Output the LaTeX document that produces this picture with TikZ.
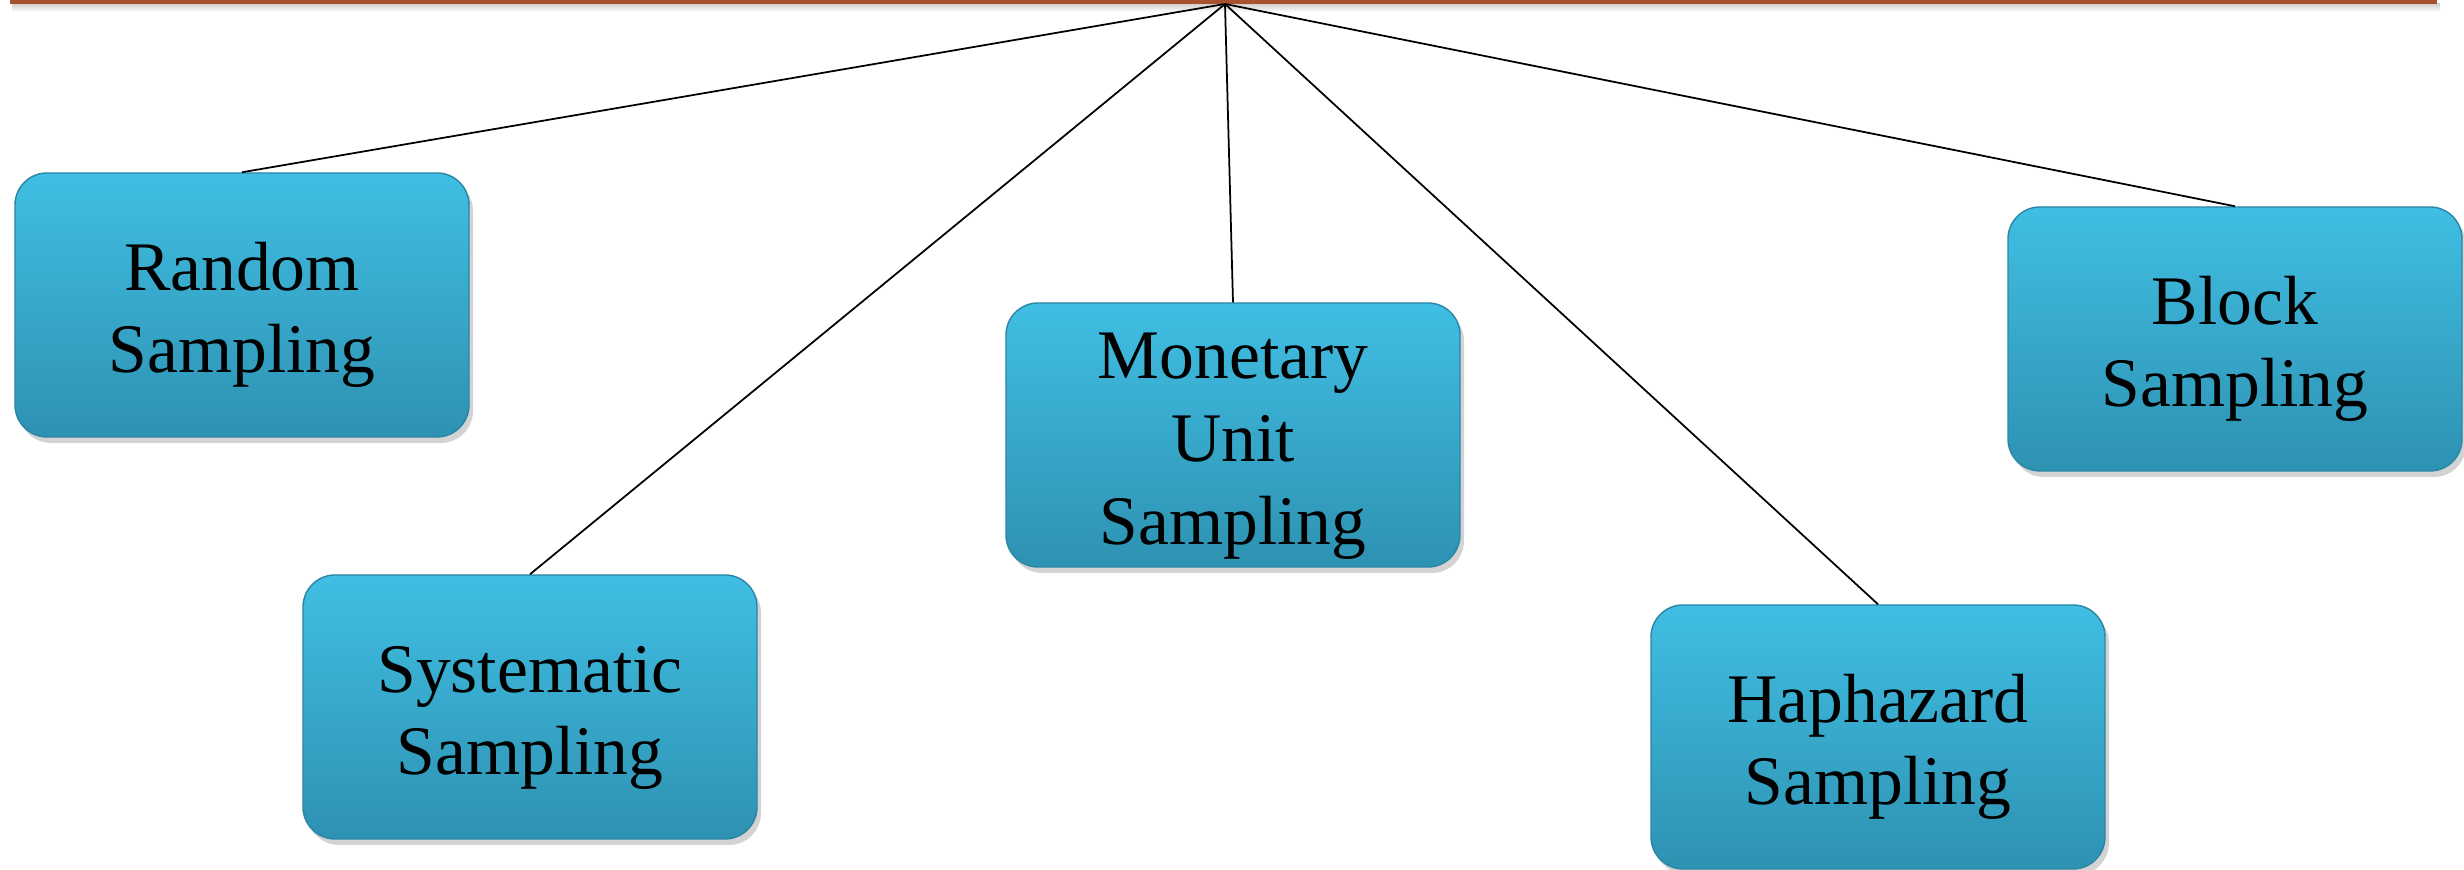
\documentclass[tikz,border=0pt]{standalone}
\usepackage{fontspec}
\setmainfont{Liberation Serif}
\usetikzlibrary{shadows}
\definecolor{boxtop}{HTML}{40BEE3}
\definecolor{boxbot}{HTML}{2E92B2}
\definecolor{boxedge}{HTML}{2A86A4}
\definecolor{barbrown}{HTML}{A8512F}
\newcommand{\boxtext}[1]{\raisebox{-0.1cm}[\height][\depth]{\begin{tabular}{@{}c@{}}#1\end{tabular}}}
\tikzset{
  sampbox/.style={rounded corners=0.32cm, minimum width=4.54cm, minimum height=2.64cm,
    top color=boxtop, bottom color=boxbot, draw=boxedge, line width=0.4pt,
    align=center, text=black, inner sep=0pt,
    font=\fontsize{19.8}{23.5}\selectfont,
    drop shadow={shadow xshift=0.04cm, shadow yshift=-0.06cm, opacity=0.35}},
  link/.style={draw=black, line width=0.5pt}
}
\begin{document}
\begin{tikzpicture}
\useasboundingbox (0,0) rectangle (24.64,8.70);
% top bar with faint shadow
\shade[top color=black!18, bottom color=white] (0.12,8.66) rectangle (24.40,8.58);
\fill[barbrown] (0.10,8.70) rectangle (24.37,8.655);
\coordinate (apex) at (12.25,8.66);
\node[sampbox] (random) at (2.42,5.65) {\boxtext{Random\\Sampling}};
\node[sampbox] (monetary) at (12.33,4.35) {\boxtext{Monetary\\Unit\\Sampling}};
\node[sampbox] (systematic) at (5.30,1.63) {\boxtext{Systematic\\Sampling}};
\node[sampbox] (haphazard) at (18.78,1.33) {\boxtext{Haphazard\\Sampling}};
\node[sampbox] (block) at (22.35,5.31) {\boxtext{Block\\Sampling}};
\draw[link] (apex) -- (random.north);
\draw[link] (apex) -- (systematic.north);
\draw[link] (apex) -- (monetary.north);
\draw[link] (apex) -- (haphazard.north);
\draw[link] (apex) -- (block.north);
\end{tikzpicture}
\end{document}
